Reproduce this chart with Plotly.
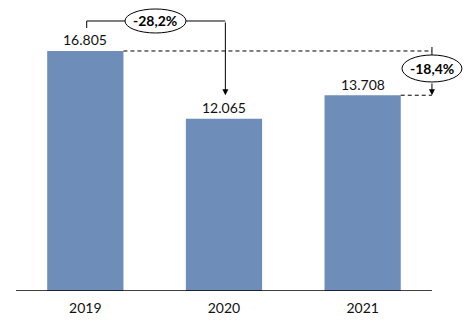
import plotly.graph_objects as go

# Data
years = ["2019", "2020", "2021"]
values = [16805, 12065, 13708]

BAR_COLOR = "#6F8DB9"
FONT = "Lato"

def fmt_int(v):
    return f"{v:,}".replace(",", ".")

def fmt_pct(a, b):
    return f"{(b - a) / a * 100:.1f}%".replace(".", ",")

bar_w = 0.55
ymax = 20375  # axis range top
u = ymax / 291.0  # data units per pixel

fig = go.Figure(go.Bar(
    x=[0, 1, 2], y=values, width=bar_w,
    marker=dict(color=BAR_COLOR, line=dict(width=0)),
    hoverinfo="skip",
))

shapes = []
annotations = []
LINE = dict(color="black", width=1)
DASH = dict(color="black", width=1, dash="4px,3px")

# value labels above bars
for i, v in enumerate(values):
    annotations.append(dict(
        x=i, y=v, xref="x", yref="y", text=fmt_int(v), showarrow=False,
        yanchor="middle", yshift=11,
        font=dict(family=FONT, size=14, color="#111111"),
    ))

# baseline across the category span
shapes.append(dict(type="line", xref="x", yref="y", x0=-0.5, x1=2.5, y0=0, y1=0,
                   line=dict(color="black", width=1.5)))

# bracket 2019 -> 2020
bracket_y = values[0] + 30 * u
start_y = values[0] + 23 * u
arrow_tip = values[1] + 23.5 * u
x_left, x_right = 0.01, 1.01
e1_x0, e1_x1 = 0.286, 0.726
shapes.append(dict(type="line", xref="x", yref="y", x0=x_left, x1=x_left,
                   y0=start_y, y1=bracket_y, line=LINE))
shapes.append(dict(type="line", xref="x", yref="y", x0=x_left, x1=e1_x0,
                   y0=bracket_y, y1=bracket_y, line=LINE))
shapes.append(dict(type="line", xref="x", yref="y", x0=e1_x1, x1=x_right,
                   y0=bracket_y, y1=bracket_y, line=LINE))
annotations.append(dict(
    x=x_right, y=arrow_tip, ax=x_right, ay=bracket_y,
    xref="x", yref="y", axref="x", ayref="y", text="", showarrow=True,
    arrowhead=2, arrowsize=1.2, arrowwidth=1, arrowcolor="black",
))
shapes.append(dict(type="circle", xref="x", yref="y", x0=e1_x0, x1=e1_x1,
                   y0=bracket_y - 12 * u, y1=bracket_y + 12 * u,
                   fillcolor="white", line=LINE, layer="above"))
annotations.append(dict(
    x=(e1_x0 + e1_x1) / 2, y=bracket_y, xref="x", yref="y",
    text="<b>" + fmt_pct(values[0], values[1]) + "</b>",
    showarrow=False, font=dict(family=FONT, size=14, color="black"),
))

# dashed guides at the 2019 and 2021 levels
shapes.append(dict(type="line", xref="x", yref="y", x0=bar_w / 2, x1=2.5,
                   y0=values[0], y1=values[0], line=DASH))
shapes.append(dict(type="line", xref="x", yref="y", x0=2 + bar_w / 2, x1=2.5,
                   y0=values[2], y1=values[2], line=DASH))

# 2019 -> 2021 change marker
e2_cy = values[0] - 17.5 * u
e2_ry = 13.5 * u
shapes.append(dict(type="line", xref="x", yref="y", x0=2.5, x1=2.5,
                   y0=values[0] + 4 * u, y1=e2_cy + e2_ry, line=LINE))
annotations.append(dict(
    x=2.5, y=values[2], ax=2.5, ay=e2_cy - e2_ry,
    xref="x", yref="y", axref="x", ayref="y", text="", showarrow=True,
    arrowhead=2, arrowsize=1.2, arrowwidth=1, arrowcolor="black",
))
shapes.append(dict(type="circle", xref="x", yref="y", x0=2.284, x1=2.716,
                   y0=e2_cy - e2_ry, y1=e2_cy + e2_ry,
                   fillcolor="white", line=LINE, layer="above"))
annotations.append(dict(
    x=2.5, y=e2_cy, xref="x", yref="y",
    text="<b>" + fmt_pct(values[0], values[2]) + "</b>",
    showarrow=False, font=dict(family=FONT, size=14, color="black"),
))

fig.update_layout(
    width=468, height=326,
    margin=dict(l=16, r=0, t=0, b=35),
    paper_bgcolor="white", plot_bgcolor="white",
    showlegend=False,
    shapes=shapes, annotations=annotations,
    xaxis=dict(range=[-0.5, 2.76], tickvals=[0, 1, 2], ticktext=years,
               showgrid=False, zeroline=False, showline=False, ticks="",
               ticklabelstandoff=7,
               tickfont=dict(family=FONT, size=14, color="#111111"), fixedrange=True),
    yaxis=dict(range=[0, ymax], visible=False, fixedrange=True),
)

fig.write_html("out.html")
